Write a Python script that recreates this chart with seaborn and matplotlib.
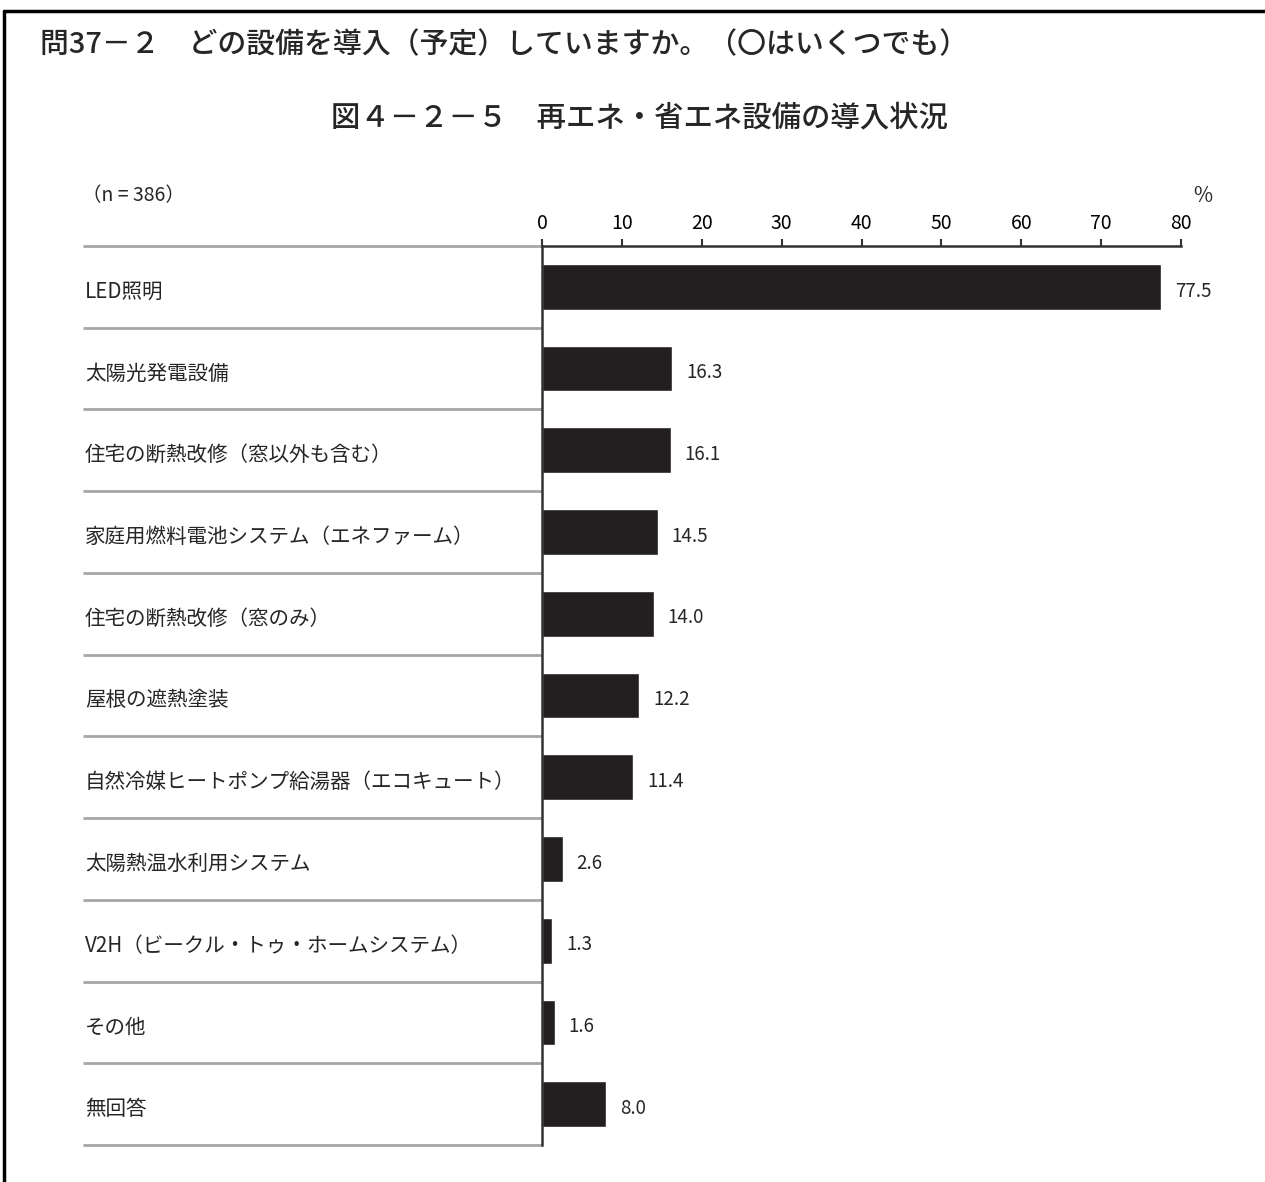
import matplotlib
matplotlib.use("Agg")
import matplotlib.pyplot as plt
import matplotlib.transforms as mtransforms
from matplotlib.lines import Line2D
import seaborn as sns
import pandas as pd

# data
categories = [
    "LED照明",
    "太陽光発電設備",
    "住宅の断熱改修（窓以外も含む）",
    "家庭用燃料電池システム（エネファーム）",
    "住宅の断熱改修（窓のみ）",
    "屋根の遮熱塗装",
    "自然冷媒ヒートポンプ給湯器（エコキュート）",
    "太陽熱温水利用システム",
    "V2H（ビークル・トゥ・ホームシステム）",
    "その他",
    "無回答",
]
percent = [77.5, 16.3, 16.1, 14.5, 14.0, 12.2, 11.4, 2.6, 1.3, 1.6, 8.0]
x_ticks = [0, 10, 20, 30, 40, 50, 60, 70, 80]

question = "問37－２　どの設備を導入（予定）していますか。（〇はいくつでも）"
fig_title = "図４－２－５　再エネ・省エネ設備の導入状況"
n_label = "（n = 386）"

df = pd.DataFrame({"item": categories, "pct": percent})

sns.set_style("white")
plt.rcParams["font.family"] = ["Noto Sans CJK JP", "DejaVu Sans"]

W, H = 1265, 1182
fig = plt.figure(figsize=(W / 100, H / 100), dpi=100)

# axes box in pixels
left, right, top, bottom = 542, 1181, 246, 1145
ax = fig.add_axes([left / W, 1 - bottom / H, (right - left) / W, (bottom - top) / H])

bar_color = "#231f20"
sns.barplot(data=df, x="pct", y="item", orient="h", color=bar_color,
            width=0.56, saturation=1, ax=ax)

ax.set_xlim(0, 80)
ax.set_ylim(len(categories) - 0.5, -0.5)
ax.set_xticks(x_ticks)
ax.xaxis.tick_top()
ax.tick_params(axis="x", direction="out", length=5, width=1.5, color="#333333",
               labelsize=14, pad=4, labelcolor="black")
ax.set_yticks([])
ax.set_xlabel("")
ax.set_ylabel("")
for side in ["right", "bottom"]:
    ax.spines[side].set_visible(False)
for side in ["top", "left"]:
    ax.spines[side].set_color("#333333")
    ax.spines[side].set_linewidth(1.8)

# value labels
for i, v in enumerate(percent):
    ax.annotate(f"{v:.1f}", xy=(v, i), xytext=(10, -3), textcoords="offset points",
                ha="left", va="center", fontsize=13.5)

# row separators and category labels on the left
trans = mtransforms.blended_transform_factory(fig.transFigure, ax.transData)
sep_x0 = 83 / W
for k in range(len(categories) + 1):
    ax.plot([sep_x0, left / W], [k - 0.5, k - 0.5], transform=trans,
            color="#a6a6a6", lw=2, clip_on=False, solid_capstyle="butt")
for i, name in enumerate(categories):
    ax.text(85 / W, i + 0.06, name, transform=trans, ha="left", va="center",
            fontsize=14.8)

# header texts
fig.text(40 / W, 1 - 45 / H, question, ha="left", va="center", fontsize=20.8,
         fontweight="medium")
fig.text(639 / W, 1 - 118 / H, fig_title, ha="center", va="center", fontsize=21.2,
         fontweight="medium")
fig.text(82 / W, 1 - 196 / H, n_label, ha="left", va="center", fontsize=14)
fig.text(1203 / W, 1 - 196 / H, "%", ha="center", va="center", fontsize=15)

# outer frame (top and left edges visible)
fig.add_artist(Line2D([4 / W, 1], [1 - 11 / H, 1 - 11 / H], transform=fig.transFigure,
                      color="black", lw=2.5))
fig.add_artist(Line2D([4 / W, 4 / W], [0, 1 - 11 / H], transform=fig.transFigure,
                      color="black", lw=2.5))

fig.savefig("out.png", dpi=100)
plt.close(fig)
